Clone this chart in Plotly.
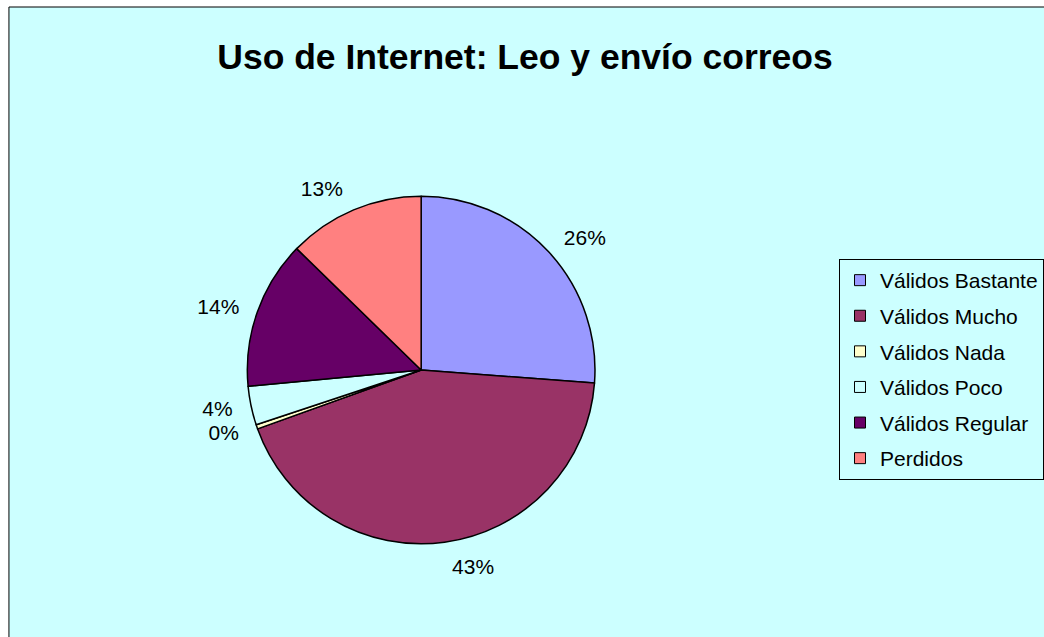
import plotly.graph_objects as go

title_text = "Uso de Internet: Leo y envío correos"
categories = ["Válidos Bastante", "Válidos Mucho", "Válidos Nada", "Válidos Poco", "Válidos Regular", "Perdidos"]
values = [26.2, 43.3, 0.4, 3.6, 13.8, 12.7]
colors = ["#9999FF", "#993366", "#FFFFCC", "#CCFFFF", "#660066", "#FF8080"]

W, H = 1044, 637
FONT = "Liberation Sans, Arial, sans-serif"
BG = "#CCFFFF"
CX, CY = 424, 370
R, RL = 175, 188

fig = go.Figure()
# visible pie
fig.add_trace(go.Pie(
    labels=categories, values=values, sort=False,
    direction="clockwise", rotation=0,
    marker=dict(colors=colors, line=dict(color="black", width=1.5)),
    textinfo="none", showlegend=False,
    hoverinfo="label+percent",
    domain=dict(x=[(CX - R) / W, (CX + R) / W], y=[(H - CY - R) / H, (H - CY + R) / H]),
))
# label carrier: same data, slightly larger transparent pie so labels sit further out
fig.add_trace(go.Pie(
    labels=categories, values=values, sort=False,
    direction="clockwise", rotation=0,
    marker=dict(colors=["rgba(0,0,0,0)"] * len(values), line=dict(width=0)),
    texttemplate="%{percent:.0%}", textposition="outside",
    outsidetextfont=dict(family=FONT, size=21, color="black"),
    showlegend=False, hoverinfo="skip",
    domain=dict(x=[(CX - RL) / W, (CX + RL) / W], y=[(H - CY - RL) / H, (H - CY + RL) / H]),
))

# legend entries built from the category/colour arrays
for i, (cat, col) in enumerate(zip(categories, colors)):
    fig.add_trace(go.Scatter(
        x=[None], y=[None], mode="markers", name=cat,
        legendgroup="g%d" % i,
        marker=dict(symbol="square", size=11, color=col, line=dict(color="black", width=1)),
        hoverinfo="skip",
    ))

fig.update_layout(
    width=W, height=H,
    margin=dict(l=0, r=0, t=0, b=0),
    paper_bgcolor="white",
    plot_bgcolor="rgba(0,0,0,0)",
    font=dict(family=FONT, color="black"),
    title=dict(text="<b>" + title_text + "</b>", x=525 / W, xanchor="center",
               y=1 - 57 / H, yanchor="middle", font=dict(family=FONT, size=35.5, color="black")),
    xaxis=dict(visible=False),
    yaxis=dict(visible=False),
    legend=dict(x=845 / W, xanchor="left", y=1 - 259 / H, yanchor="top",
                bgcolor=BG, bordercolor="black", borderwidth=1,
                font=dict(family=FONT, size=21, color="black"),
                traceorder="grouped", tracegroupgap=5.3),
    shapes=[dict(type="rect", xref="paper", yref="paper",
                 x0=9 / W, x1=1.05, y0=-0.05, y1=1 - 7 / H,
                 fillcolor=BG, line=dict(color="black", width=1), layer="below")],
)

fig.write_html("out.html", config={"displayModeBar": False},
               post_script="document.body.style.margin='0';document.body.style.overflow='hidden';")
